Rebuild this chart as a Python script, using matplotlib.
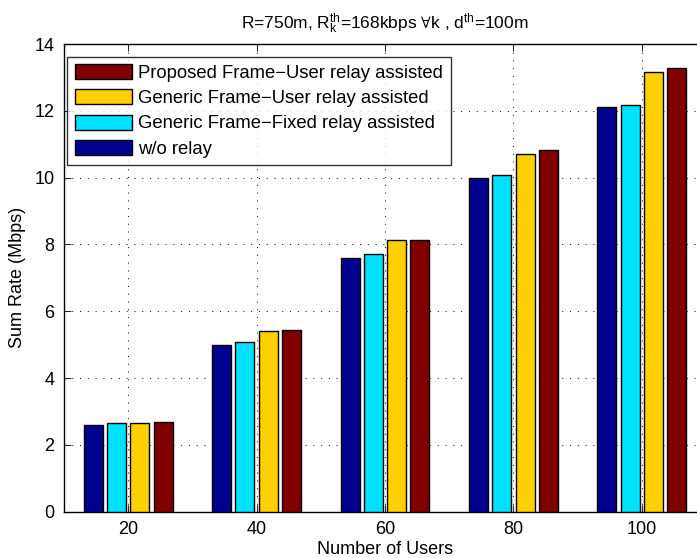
import numpy as np
import matplotlib
matplotlib.use("Agg")
import matplotlib.pyplot as plt

plt.rcParams["font.family"] = ["Liberation Sans", "DejaVu Sans"]
plt.rcParams["mathtext.fontset"] = "custom"
plt.rcParams["mathtext.rm"] = "Liberation Sans"
plt.rcParams["mathtext.it"] = "Liberation Sans:italic"
plt.rcParams["mathtext.fallback"] = "stix"

users = [20, 40, 60, 80, 100]
wo_relay = [2.59, 4.99, 7.60, 10.00, 12.11]
generic_fixed = [2.65, 5.08, 7.71, 10.07, 12.19]
generic_user = [2.67, 5.41, 8.13, 10.72, 13.17]
proposed_user = [2.70, 5.43, 8.14, 10.84, 13.29]

series = [
    ("w/o relay", wo_relay, "#000090"),
    ("Generic Frame\u2212Fixed relay assisted", generic_fixed, "#00E0FF"),
    ("Generic Frame\u2212User relay assisted", generic_user, "#FFD000"),
    ("Proposed Frame\u2212User relay assisted", proposed_user, "#800000"),
]

fig = plt.figure(figsize=(6.97, 5.58), dpi=100)
ax = fig.add_axes([0.0918, 0.083, 1.013 - 0.0918, 0.838])

x = np.asarray(users, dtype=float)
step = 3.63
width = 2.96
handles = []
for i, (label, vals, color) in enumerate(series):
    offset = (i - 1.5) * step
    h = ax.bar(x + offset, vals, width=width, color=color, edgecolor="black",
               linewidth=1.0, label=label, zorder=3)
    handles.append(h)

ax.set_xlim(10, 110)
ax.set_ylim(0, 14)
ax.set_xticks(users)
ax.set_yticks(np.arange(0, 15, 2))
ax.tick_params(direction="in", top=True, right=True, labelsize=13, length=5, width=0.6, pad=7)
ax.grid(True, linestyle=(0, (1, 7)), color="black", linewidth=0.7, zorder=0)
ax.set_axisbelow(True)
for sp in ax.spines.values():
    sp.set_linewidth(1.0)

ax.set_xlabel("Number of Users", fontsize=13, labelpad=2)
ax.set_ylabel("Sum Rate (Mbps)", fontsize=13, labelpad=6)
ax.set_title(r"R=750m, R$_\mathrm{k}^\mathrm{th}$=168kbps $\forall$k , d$^\mathrm{th}$=100m",
             fontsize=12.5, pad=11)

leg = ax.legend(handles[::-1], [s[0] for s in series][::-1], loc="upper left",
                bbox_to_anchor=(0.005, 0.973), borderaxespad=0,
                fontsize=13.3, frameon=True, fancybox=False, edgecolor="black",
                handlelength=3.1, handleheight=0.87, labelspacing=0.4,
                borderpad=0.4, handletextpad=0.35)
leg.get_frame().set_linewidth(1.0)

fig.savefig("out.png", dpi=100)
plt.close(fig)
